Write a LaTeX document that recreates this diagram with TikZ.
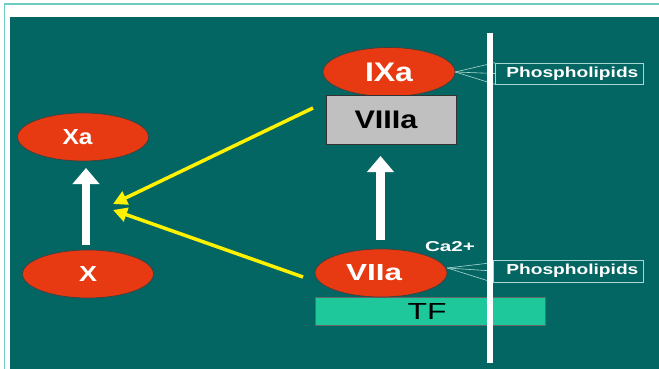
\documentclass[tikz,border=0pt]{standalone}
\usepackage{graphicx}
\usepackage{fontspec}
\setmainfont{Liberation Sans}
\usetikzlibrary{arrows.meta,shapes.geometric}
\definecolor{bgteal}{RGB}{4,102,98}
\definecolor{edgeteal}{RGB}{110,205,195}
\definecolor{factorred}{RGB}{232,58,18}
\definecolor{tfgreen}{RGB}{30,200,155}
\definecolor{greybox}{RGB}{192,192,192}
\definecolor{thinline}{RGB}{170,215,210}
\newcommand\fittext[3]{\resizebox{#1}{#2}{#3}}
\begin{document}
\begin{tikzpicture}[x=1pt,y=-1pt,
  factor/.style={ellipse,draw=black!75,line width=0.7pt,fill=factorred,text=white,font=\bfseries\fontsize{20}{20}\selectfont,inner sep=0pt},
  labelbox/.style={draw=thinline,line width=0.7pt,text=white,font=\bfseries\fontsize{12}{12}\selectfont,inner sep=0pt,anchor=west},
  thin/.style={thinline,line width=0.6pt},
  whitearrow/.style={white,line width=8.5pt,-{Triangle[width=26pt,length=16pt]}},
  yellowarrow/.style={yellow,line width=3.5pt,-{Triangle[width=14pt,length=14pt]}}
]
\useasboundingbox (0,0) rectangle (659,369);
\fill[white] (0,0) rectangle (659,369);
\draw[edgeteal,line width=1.5pt] (4.5,370) -- (4.5,4) -- (660,4);
\fill[bgteal] (10,17) rectangle (659,369);

% TF
\node[fill=tfgreen,draw=black!60,line width=0.4pt,minimum width=230pt,minimum height=28pt,inner sep=0pt,font=\fontsize{20}{20}\selectfont] (tf) at (430,311) {\hspace{-6pt}\fittext{39pt}{16pt}{TF}};

% factors
\node[factor,minimum width=132pt,minimum height=49pt] (ixa) at (389,72) {\fittext{48pt}{18.5pt}{IXa}\hspace{-8pt}};
\node[draw=black!80,line width=0.6pt,fill=greybox,minimum width=130pt,minimum height=49pt,inner sep=0pt,font=\bfseries\fontsize{20}{20}\selectfont] (viiia) at (391,119.5) {\hspace{-10pt}\fittext{63pt}{17.5pt}{VIIIa}};
\node[factor,minimum width=132pt,minimum height=48pt] (viia) at (381,273) {\hspace{-14pt}\fittext{56pt}{16pt}{VIIa}};
\node[factor,minimum width=131pt,minimum height=48pt] (xa) at (83,137) {\hspace{-11pt}\fittext{30pt}{15pt}{Xa}};
\node[factor,minimum width=131pt,minimum height=48pt] (x) at (88,274) {\fittext{18pt}{15pt}{X}};

\node[text=white,font=\bfseries\fontsize{12}{12}\selectfont,inner sep=0pt] (ca) at (450,247) {\fittext{50pt}{10pt}{Ca2+}};

% phospholipid boxes
\node[labelbox,minimum width=148pt,minimum height=21pt] (ph1) at (495,73.5) {\hspace{6pt}\fittext{132pt}{10.5pt}{Phospholipids}};
\node[labelbox,minimum width=150pt,minimum height=22pt] (ph2) at (493,271) {\hspace{8pt}\fittext{132pt}{10.5pt}{Phospholipids}};

\draw[thin] (ixa.east) -- (ph1.north west);
\draw[thin] (ixa.east) -- (ph1.west);
\draw[thin] (ixa.east) -- (ph1.south west);
\draw[thin] (viia.east) ++(0,-5) coordinate (v1) (v1) -- ([yshift=-3pt]ph2.north west);
\draw[thin] (v1) -- (ph2.west);
\draw[thin] (v1) -- (ph2.south west);

% membrane
\coordinate (memtop) at (490,33);
\coordinate (membot) at (490,363);
\draw[white,line width=6pt] (memtop) -- (membot);

% arrows
\coordinate (xtail) at (86,245);
\coordinate (xtip) at (86,168);
\draw[whitearrow] (xtail) -- (xtip);
\coordinate (vtail) at (380.5,240);
\coordinate (vtip) at (380.5,156);
\draw[whitearrow] (vtail) -- (vtip);

\coordinate (y1s) at (313,108);
\coordinate (y1e) at (113,204);
\coordinate (y2s) at (303,277);
\coordinate (y2e) at (113,210);
\draw[yellowarrow] (y1s) -- (y1e);
\draw[yellowarrow] (y2s) -- (y2e);
\end{tikzpicture}
\end{document}
